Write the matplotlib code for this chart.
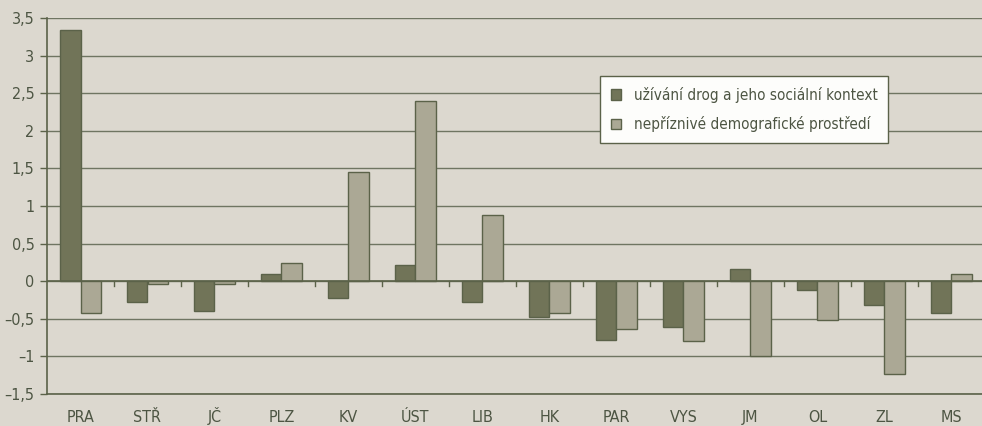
import numpy as np
import matplotlib
matplotlib.use('Agg')
import matplotlib.pyplot as plt

plt.rcParams['font.family'] = ['Liberation Sans Narrow', 'DejaVu Sans']
plt.rcParams['font.stretch'] = 'condensed'

# regions
regions = ['PRA', 'STŘ', 'JČ', 'PLZ', 'KV', 'ÚST', 'LIB', 'HK', 'PAR', 'VYS', 'JM', 'OL', 'ZL', 'MS']
# factor scores
drogy = [3.34, -0.27, -0.39, 0.10, -0.22, 0.22, -0.27, -0.47, -0.78, -0.61, 0.16, -0.12, -0.32, -0.42]
demografie = [-0.42, -0.04, -0.04, 0.24, 1.45, 2.40, 0.88, -0.42, -0.63, -0.80, -1.00, -0.52, -1.24, 0.10]
yticks = [-1.5, -1, -0.5, 0, 0.5, 1, 1.5, 2, 2.5, 3, 3.5]
ytick_labels = ['–1,5', '–1', '–0,5', '0', '0,5', '1', '1,5', '2', '2,5', '3', '3,5']

bg = '#dcd8cf'
dark = '#717458'
light = '#aba895'
edge = '#5b6249'
txt = '#4d5543'

fig = plt.figure(figsize=(9.82, 4.26), dpi=100, facecolor=bg)
ax = fig.add_axes([47 / 982, 32 / 426, 938 / 982, 376 / 426])
ax.set_facecolor(bg)

x = np.arange(len(regions))
w = 0.3
ax.bar(x - w / 2, drogy, w, color=dark, edgecolor=edge, linewidth=1,
       label='užívání drog a jeho sociální kontext', zorder=3)
ax.bar(x + w / 2, demografie, w, color=light, edgecolor=edge, linewidth=1,
       label='nepříznivé demografické prostředí', zorder=3)

ax.set_xlim(-0.5, len(regions) - 0.5)
ax.set_ylim(-1.5, 3.5)
ax.set_yticks(yticks)
ax.set_yticklabels(ytick_labels)
ax.yaxis.grid(True, color='#6f7562', linewidth=1, zorder=0)
ax.axhline(0, color=edge, linewidth=1.2, zorder=4)

ax.set_xticks(x)
ax.set_xticklabels(regions, va='baseline')
ax.tick_params(axis='x', length=0, pad=20, labelsize=11.5, colors=txt)
ax.tick_params(axis='y', length=5, width=1, color=edge, pad=4, labelsize=11.5, colors=txt)
# small ticks between categories on the zero line
for b in x[:-1] + 0.5:
    ax.plot([b, b], [0, -0.06], color=edge, linewidth=1, zorder=4)

for s in ['top', 'right']:
    ax.spines[s].set_visible(False)
for s in ['left', 'bottom']:
    ax.spines[s].set_color(edge)
    ax.spines[s].set_linewidth(1.2)

leg = ax.legend(loc='upper left', bbox_to_anchor=(553 / 938, 1 - 58 / 376),
                frameon=True, fancybox=False, fontsize=11, labelcolor=txt,
                handlelength=0.7, handleheight=0.7, handletextpad=0.8,
                labelspacing=0.9, borderpad=0.7, borderaxespad=0)
leg.get_frame().set_edgecolor(edge)
leg.get_frame().set_facecolor('#fdfdfb')
leg.get_frame().set_alpha(1)
leg.get_frame().set_linewidth(1)
leg.set_zorder(5)

plt.savefig('out.png', dpi=100, facecolor=bg)
